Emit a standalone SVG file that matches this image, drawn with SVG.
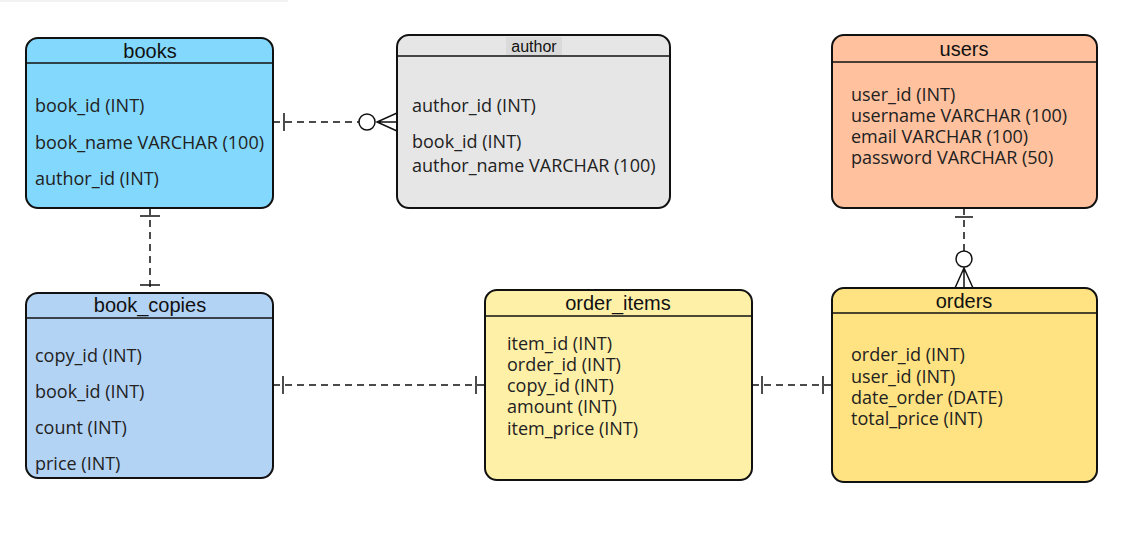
<svg xmlns="http://www.w3.org/2000/svg" width="1146" height="550" viewBox="0 0 1146 550">
<style>
.box{stroke:#111;stroke-width:2}
.hl{stroke:#111;stroke-width:1.5}
.title{font-family:"Liberation Sans",Arial,sans-serif;font-size:20px;fill:#111;text-anchor:middle}
.f{font-family:"Open Sans",sans-serif;font-size:18px;fill:#222}
.c{stroke:#111;stroke-width:1.5;fill:none}
.d{stroke-dasharray:7 5}
</style>
<rect width="1146" height="550" fill="#fff"/>
<line x1="0" y1="1" x2="288" y2="1" stroke="#eee" stroke-width="1.5"/>
<g id="connectors">
  <line class="c d" x1="273" y1="122" x2="359" y2="122"/>
  <line class="c" x1="284" y1="113" x2="284" y2="131"/>
  <circle class="c" cx="367" cy="122" r="8" fill="#fff"/>
  <path class="c" d="M397 113 L377 122 L397 131 M377 122 H397"/>
  <line class="c d" x1="150" y1="208" x2="150" y2="293"/>
  <line class="c" x1="140" y1="216" x2="160" y2="216"/>
  <line class="c" x1="140" y1="285" x2="160" y2="285"/>
  <line class="c d" x1="273" y1="385" x2="485" y2="385"/>
  <line class="c" x1="283" y1="376" x2="283" y2="394"/>
  <line class="c" x1="476" y1="376" x2="476" y2="394"/>
  <line class="c d" x1="752" y1="385" x2="832" y2="385"/>
  <line class="c" x1="762" y1="376" x2="762" y2="394"/>
  <line class="c" x1="823" y1="376" x2="823" y2="394"/>
  <line class="c d" x1="964" y1="208" x2="964" y2="251"/>
  <line class="c" x1="955" y1="217" x2="973" y2="217"/>
  <circle class="c" cx="964" cy="259" r="8" fill="#fff"/>
  <path class="c" d="M955 288 L964 268 L973 288 M964 268 V288"/>
</g>
<g id="books">
  <rect class="box" x="26" y="38" width="247" height="170" rx="12" fill="#82D9FD"/>
  <line class="hl" x1="26" y1="63" x2="273" y2="63"/>
  <text class="title" x="150" y="58">books</text>
  <text class="f" x="35" y="112">book_id (INT)</text>
  <text class="f" x="35" y="149">book_name VARCHAR (100)</text>
  <text class="f" x="35" y="185">author_id (INT)</text>
</g>
<g id="author">
  <rect class="box" x="397" y="35" width="273" height="173" rx="12" fill="#E6E6E6"/>
  <line class="hl" x1="397" y1="56" x2="670" y2="56"/>
  <rect x="506" y="37" width="56" height="18" fill="#DADADA"/>
  <text class="title" x="534" y="52" style="font-size:16px">author</text>
  <text class="f" x="412" y="112">author_id (INT)</text>
  <text class="f" x="412" y="148">book_id (INT)</text>
  <text class="f" x="412" y="172">author_name VARCHAR (100)</text>
</g>
<g id="users">
  <rect class="box" x="832" y="35" width="265" height="173" rx="12" fill="#FFC19E"/>
  <line class="hl" x1="832" y1="62" x2="1097" y2="62"/>
  <text class="title" x="964" y="56">users</text>
  <text class="f" x="851" y="101">user_id (INT)</text>
  <text class="f" x="851" y="122">username VARCHAR (100)</text>
  <text class="f" x="851" y="143">email VARCHAR (100)</text>
  <text class="f" x="851" y="164">password VARCHAR (50)</text>
</g>
<g id="book_copies">
  <rect class="box" x="26" y="293" width="247" height="185" rx="12" fill="#B3D3F5"/>
  <line class="hl" x1="26" y1="318" x2="273" y2="318"/>
  <text class="title" x="150" y="312">book_copies</text>
  <text class="f" x="35" y="362">copy_id (INT)</text>
  <text class="f" x="35" y="398">book_id (INT)</text>
  <text class="f" x="35" y="434">count (INT)</text>
  <text class="f" x="35" y="470">price (INT)</text>
</g>
<g id="order_items">
  <rect class="box" x="485" y="290" width="267" height="190" rx="12" fill="#FFF0A8"/>
  <line class="hl" x1="485" y1="316" x2="752" y2="316"/>
  <text class="title" x="618" y="310">order_items</text>
  <text class="f" x="507" y="350">item_id (INT)</text>
  <text class="f" x="507" y="371">order_id (INT)</text>
  <text class="f" x="507" y="392">copy_id (INT)</text>
  <text class="f" x="507" y="413">amount (INT)</text>
  <text class="f" x="507" y="435">item_price (INT)</text>
</g>
<g id="orders">
  <rect class="box" x="832" y="288" width="265" height="194" rx="12" fill="#FFE281"/>
  <line class="hl" x1="832" y1="313" x2="1097" y2="313"/>
  <text class="title" x="964" y="308">orders</text>
  <text class="f" x="851" y="361">order_id (INT)</text>
  <text class="f" x="851" y="383">user_id (INT)</text>
  <text class="f" x="851" y="404">date_order (DATE)</text>
  <text class="f" x="851" y="425">total_price (INT)</text>
</g>
</svg>
